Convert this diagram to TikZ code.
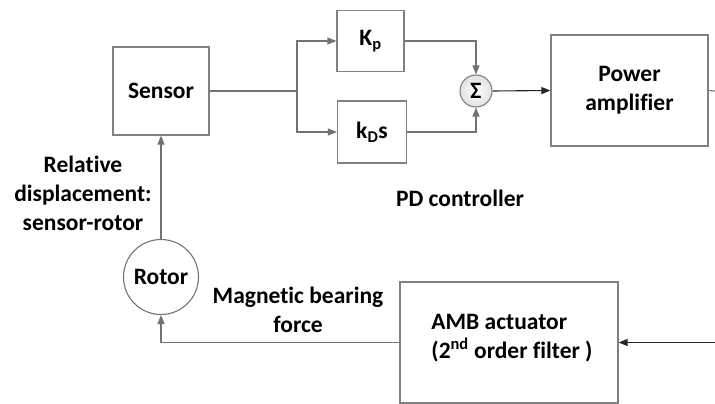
\documentclass[tikz,border=0pt]{standalone}
\usepackage{fontspec}
\setmainfont[Ligatures=NoCommon]{Carlito}
\usetikzlibrary{arrows.meta}

\begin{document}
\begin{tikzpicture}[x=1pt, y=-1pt,
    font=\fontsize{23.5}{29}\selectfont\bfseries,
    block/.style={draw=black!50, line width=1.2pt, inner sep=0pt},
    wire/.style={draw=black!55, line width=1.1pt},
    arrow/.style={wire, -{Triangle[length=9pt, width=7pt]}}]
    \useasboundingbox (0,0) rectangle (715,404);
    % Below nodes are the blocks.
        \node[block, minimum width=96pt, minimum height=88pt] (sensor) at (161,91) {Sensor};
        \node[block, minimum width=67pt, minimum height=61pt] (kp) at (370.5,41) {K\textsubscript{p}};
        \node[block, minimum width=69pt, minimum height=62pt] (kd) at (372,132) {k\textsubscript{D}s};
        \node[circle, draw=black!50, line width=1.1pt, minimum size=32pt, inner sep=0pt,
              inner color=white, outer color=black!12] (sum) at (476,91) {Σ};
        \node[block, minimum width=157pt, minimum height=111pt, align=center] (amp) at (629.5,90.5) {Power\\amplifier};
        \node[circle, draw=black!55, line width=1.1pt, minimum size=75pt, inner sep=0pt] (rotor) at (161,277) {Rotor};
        \node[block, minimum width=218pt, minimum height=121pt] (amb) at (509,342.5) {};
    % Below nodes are the labels.
        \node[align=left] (ambtext) at (512,338) {AMB actuator\\(2\textsuperscript{nd} order filter )};
        \node[align=center] (displabel) at (83,193) {Relative\\displacement:\\sensor-rotor};
        \node[] (pdlabel) at (460,198) {PD controller};
        \node[align=center] (forcelabel) at (298,310) {Magnetic bearing\\force};
    % This draws the connectors.
        \coordinate (fork) at (297,91);
        \coordinate (ampout) at (715,91);
        \coordinate (ambin) at (715,342.5);
        \draw[wire] (sensor.east) -- (fork);
        \draw[arrow] (fork) |- (kp.west);
        \draw[arrow] (fork) |- (kd.west);
        \draw[arrow] (kp.east) -| (sum.north);
        \draw[arrow] (kd.east) -| (sum.south);
        \draw[arrow, draw=black!85] (sum.east) -- (amp.west);
        \draw[wire] (amp.east) -- (ampout);
        \draw[arrow, draw=black!85] (ambin) -- (amb.east);
        \draw[arrow] (amb.west) -| (rotor.south);
        \draw[arrow] (rotor.north) -- (sensor.south);
\end{tikzpicture}
\end{document}
